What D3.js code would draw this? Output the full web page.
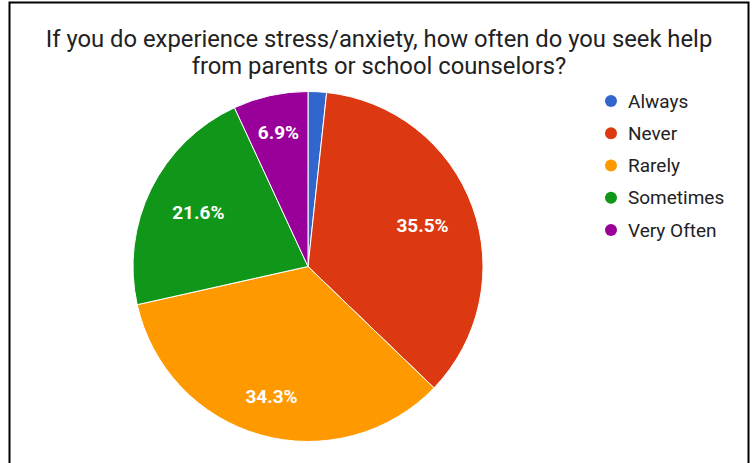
<!DOCTYPE html>
<html>
<head>
<meta charset="utf-8">
<script src="https://cdn.jsdelivr.net/npm/d3@7"></script>
<style>
  body { margin: 0; background: #fff; }
  text { font-family: Roboto, "Noto Sans", sans-serif; }
</style>
</head>
<body>
<div id="chart"></div>
<script>
// Survey answers and their share of responses (%)
var categories = ["Always", "Never", "Rarely", "Sometimes", "Very Often"];
var shares = [1.7, 35.5, 34.3, 21.6, 6.9];
var colors = ["#3366cc", "#dc3912", "#ff9900", "#109618", "#990099"];
var titleLines = [
  "If you do experience stress/anxiety, how often do you seek help",
  "from parents or school counselors?"
];

var svgWidth = 754;
var svgHeight = 463;

var svg = d3.select("#chart")
  .append("svg")
  .attr("width", svgWidth)
  .attr("height", svgHeight);

// frame around the chart
svg.append("rect")
  .attr("x", 9.5)
  .attr("y", 2.5)
  .attr("width", 739)
  .attr("height", 480)
  .attr("fill", "#fff")
  .attr("stroke", "#000")
  .attr("stroke-width", 2);

// Title
svg.append("g")
  .selectAll("text")
  .data(titleLines)
  .enter()
  .append("text")
  .attr("x", 379)
  .attr("y", (d, i) => 47 + i * 27)
  .attr("text-anchor", "middle")
  .attr("font-size", "23.8px")
  .attr("fill", "#222")
  .text(d => d);

// Pie
var cx = 308, cy = 266.5, radius = 175;

var color = d3.scaleOrdinal()
  .domain(categories)
  .range(colors);

var data = categories.map((c, i) => ({ name: c, value: shares[i] }));

var pie = d3.pie()
  .sort(null)
  .value(d => d.value);

var arc = d3.arc()
  .innerRadius(0)
  .outerRadius(radius);

var pieGroup = svg.append("g")
  .attr("transform", `translate(${cx}, ${cy})`);

var arcs = pie(data);

pieGroup.selectAll("path")
  .data(arcs)
  .enter()
  .append("path")
  .attr("d", arc)
  .attr("fill", d => color(d.data.name))
  .attr("stroke", "#fff")
  .attr("stroke-width", 1);

// Percent labels: pushed out so the text box sits just inside r * 0.85
var labelFs = 19;
var outerEdge = radius * 0.85;

var labels = pieGroup.selectAll(".slice-label")
  .data(arcs.filter(d => d.data.value >= 5))
  .enter()
  .append("text")
  .attr("class", "slice-label")
  .attr("text-anchor", "middle")
  .attr("font-size", labelFs + "px")
  .attr("font-weight", "bold")
  .attr("fill", "#fff")
  .text(d => d.data.value.toFixed(1) + "%");

labels.each(function(d) {
  var a = (d.startAngle + d.endAngle) / 2;
  var ux = Math.sin(a), uy = -Math.cos(a);
  var w = this.getComputedTextLength();
  var h = labelFs * 0.72;
  var r = outerEdge - (w / 2 * Math.abs(ux) + h / 2 * Math.abs(uy));
  d3.select(this)
    .attr("x", r * ux)
    .attr("y", r * uy + h / 2);
});

// Legend
var legendY = d3.scalePoint()
  .domain(categories)
  .range([101, 230]);

var legend = svg.append("g")
  .selectAll("g")
  .data(categories)
  .enter()
  .append("g")
  .attr("transform", d => `translate(611, ${legendY(d)})`);

legend.append("circle")
  .attr("r", 6)
  .attr("fill", d => color(d));

legend.append("text")
  .attr("x", 17)
  .attr("y", 6.5)
  .attr("font-size", "19px")
  .attr("fill", "#222")
  .text(d => d);
</script>
</body>
</html>
